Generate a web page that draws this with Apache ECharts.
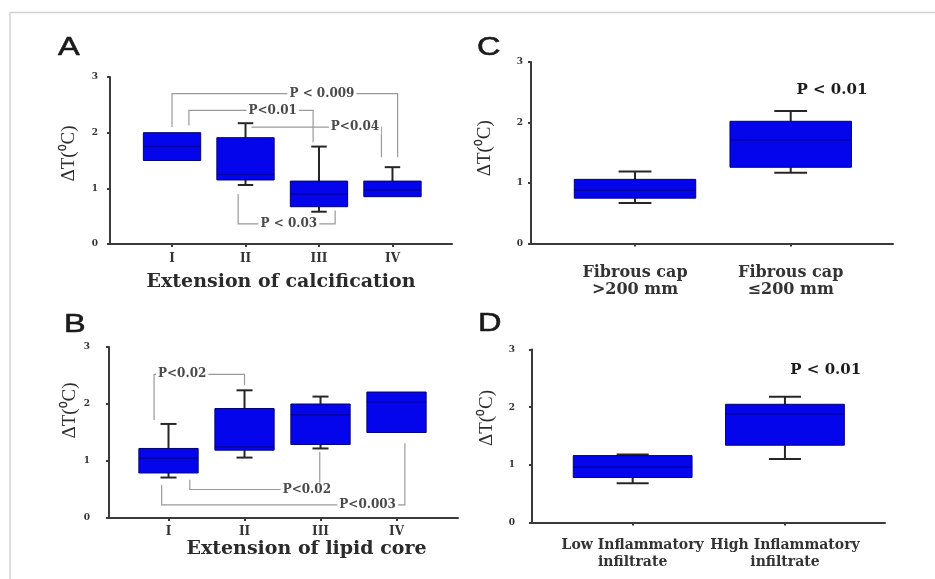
<!DOCTYPE html>
<html><head><meta charset="utf-8">
<script src="https://cdn.jsdelivr.net/npm/echarts@6/dist/echarts.min.js"></script>
<style>html,body{margin:0;padding:0;background:#fff}#c{width:935px;height:579px}</style>
</head><body><div id="c"></div><script>
// ---------- data ----------
const yName = 'ΔT(⁰C)';
const catsA = ['I', 'II', 'III', 'IV'];
const catsB = ['I', 'II', 'III', 'IV'];
const catsC = ['Fibrous cap\n>200 mm', 'Fibrous cap\n≤200 mm'];
const catsD = ['Low Inflammatory\ninfiltrate', 'High Inflammatory\ninfiltrate'];
const titleA = 'Extension of calcification';
const titleB = 'Extension of lipid core';
// [min, Q1, median, Q3, max]
const boxA = [[1.50, 1.50, 1.75, 2.00, 2.00], [1.06, 1.15, 1.25, 1.91, 2.17], [0.58, 0.67, 0.90, 1.13, 1.75], [0.85, 0.85, 0.97, 1.13, 1.38]];
const boxB = [[0.71, 0.79, 1.05, 1.22, 1.65], [1.06, 1.19, 1.25, 1.92, 2.24], [1.22, 1.29, 1.81, 2.00, 2.13], [1.50, 1.50, 2.04, 2.21, 2.21]];
const boxC = [[0.67, 0.75, 0.88, 1.06, 1.19], [1.17, 1.26, 1.71, 2.02, 2.19]];
const boxD = [[0.68, 0.78, 0.96, 1.16, 1.18], [1.10, 1.34, 1.88, 2.05, 2.18]];
// significance annotations (data coordinates: category index, ΔT)
const notesA = [
  { label: 'P < 0.009', at: [2.04, 2.70], path: [[0.00, 2.10], [0.00, 2.70], [3.07, 2.70], [3.07, 1.56]] },
  { label: 'P<0.01', at: [1.37, 2.40], path: [[0.23, 2.13], [0.23, 2.40], [1.92, 2.40], [1.92, 1.83]] },
  { label: 'P<0.04', at: [2.49, 2.10], path: [[1.08, 2.10], [2.85, 2.10], [2.85, 1.56]] },
  { label: 'P < 0.03', at: [1.59, 0.36], path: [[0.90, 0.90], [0.90, 0.36], [2.22, 0.36], [2.22, 0.60]] }
];
const notesB = [
  { label: 'P<0.02', at: [0.18, 2.52], path: [[-0.19, 1.72], [-0.19, 2.52], [1.00, 2.52], [1.00, 2.33]] },
  { label: 'P<0.02', at: [1.82, 0.50], path: [[0.28, 0.67], [0.28, 0.50], [1.99, 0.50], [1.99, 1.16]] },
  { label: 'P<0.003', at: [2.62, 0.23], path: [[-0.09, 0.58], [-0.09, 0.23], [3.11, 0.23], [3.11, 1.31]] }
];
const notesC = [{ label: 'P < 0.01', at: [1.265, 2.53], path: [] }];
const notesD = [{ label: 'P < 0.01', at: [1.268, 2.65], path: [] }];
const yTicks = [0, 1, 2, 3];

// ---------- layout / style ----------
const SERIF_B = '"DejaVu Serif", serif';
const panels = [
  { cats: catsA, box: boxA, notes: notesA, title: titleA, grid: { left: 110, top: 77, width: 342, height: 167 }, xMin: -0.844, xMax: 3.81,
    lblSize: 12, lblMargin: 8, lblLH: 14, nameGap: 29, namePad: [0, 0, 0, 0], yMargin: 12, yNameGap: 31, yNamePad: [0, 0, 0, 14] },
  { cats: catsB, box: boxB, notes: notesB, title: titleB, grid: { left: 109, top: 347, width: 349, height: 171 }, xMin: -0.783, xMax: 3.809,
    lblSize: 12, lblMargin: 7, lblLH: 14, nameGap: 11, namePad: [0, 0, 0, 46], yMargin: 19, yNameGap: 26, yNamePad: [0, 0, 0, 44] },
  { cats: catsC, box: boxC, notes: notesC, title: '', grid: { left: 531, top: 62, width: 362, height: 181.5 }, xMin: -0.668, xMax: 1.657,
    lblSize: 16, lblMargin: 21, lblLH: 17, nameGap: 0, namePad: [0, 0, 0, 0], yMargin: 8, yNameGap: 36, yNamePad: [0, 0, 0, 9] },
  { cats: catsD, box: boxD, notes: notesD, title: '', grid: { left: 532, top: 349.5, width: 353, height: 173 }, xMin: -0.661, xMax: 1.657,
    lblSize: 14, lblMargin: 14, lblLH: 17, nameGap: 0, namePad: [0, 0, 0, 0], yMargin: 17, yNameGap: 35, yNamePad: [0, 0, 0, 36] }
];
const BOX_W = 0.78;
const axisCol = '#3a3a3a';

function boxRender(params, api) {
  const x = api.value(0);
  const vMin = api.value(1), vQ1 = api.value(2), vMed = api.value(3), vQ3 = api.value(4), vMax = api.value(5);
  const cx = api.coord([x, vQ3])[0];
  const y = v => api.coord([x, v])[1];
  const w = api.size([BOX_W, 0])[0];
  const cap = w * 0.27;
  const ws = { stroke: '#262626', lineWidth: 2 };
  const ch = [];
  if (vMax > vQ3) {
    ch.push({ type: 'line', shape: { x1: cx, y1: y(vQ3), x2: cx, y2: y(vMax) }, style: ws });
    ch.push({ type: 'line', shape: { x1: cx - cap / 2, y1: y(vMax), x2: cx + cap / 2, y2: y(vMax) }, style: ws });
  }
  if (vMin < vQ1) {
    ch.push({ type: 'line', shape: { x1: cx, y1: y(vQ1), x2: cx, y2: y(vMin) }, style: ws });
    ch.push({ type: 'line', shape: { x1: cx - cap / 2, y1: y(vMin), x2: cx + cap / 2, y2: y(vMin) }, style: ws });
  }
  ch.push({ type: 'rect', shape: { x: cx - w / 2, y: y(vQ3), width: w, height: y(vQ1) - y(vQ3) },
            style: { fill: '#0505ec', stroke: '#00007a', lineWidth: 1 } });
  ch.push({ type: 'line', shape: { x1: cx - w / 2, y1: y(vMed), x2: cx + w / 2, y2: y(vMed) },
            style: { stroke: '#0000a6', lineWidth: 1.5 } });
  return { type: 'group', children: ch };
}

function noteRender(list, big) {
  return function (params, api) {
    const b = list[params.dataIndex];
    const ch = [];
    if (b.path.length) {
      ch.push({ type: 'polyline', shape: { points: b.path.map(p => api.coord(p)) },
                style: { stroke: '#9a9a9a', lineWidth: 1.2, fill: null } });
    }
    const c = api.coord(b.at);
    ch.push({ type: 'text', x: c[0], y: c[1],
      style: { text: b.label, x: 0, y: 0, align: 'center', verticalAlign: 'middle',
               font: 'bold ' + (big ? 15 : 12) + 'px ' + SERIF_B, fill: big ? '#1c1c1c' : '#4a4a4a',
               backgroundColor: b.path.length ? '#ffffff' : null, padding: [1, 2] } });
    return { type: 'group', children: ch };
  };
}

const option = { animation: false, grid: [], xAxis: [], yAxis: [], series: [], graphic: [] };
panels.forEach((p, i) => {
  option.grid.push(Object.assign({ containLabel: false }, p.grid));
  const idx = p.cats.map((c, k) => k);
  option.xAxis.push({
    gridIndex: i, type: 'value', min: p.xMin, max: p.xMax, splitLine: { show: false },
    axisLine: { show: true, onZero: false, lineStyle: { color: axisCol, width: 2 } },
    axisTick: { show: true, customValues: idx, length: 3, lineStyle: { color: axisCol, width: 2 } },
    axisLabel: { customValues: idx, formatter: v => p.cats[Math.round(v)], margin: p.lblMargin,
                 fontFamily: SERIF_B, fontWeight: 'bold', fontSize: p.lblSize, lineHeight: p.lblLH, color: '#333' },
    name: p.title, nameLocation: 'middle', nameGap: p.nameGap,
    nameTextStyle: { fontFamily: SERIF_B, fontWeight: 'bold', fontSize: 19, color: '#2a2a2a', padding: p.namePad }
  });
  option.yAxis.push({
    gridIndex: i, type: 'value', min: yTicks[0], max: yTicks[yTicks.length - 1], interval: 1, splitLine: { show: false },
    axisLine: { show: true, onZero: false, lineStyle: { color: axisCol, width: 2 } },
    axisTick: { show: true, length: 3, lineStyle: { color: axisCol, width: 2 } },
    axisLabel: { margin: p.yMargin, fontFamily: SERIF_B, fontWeight: 'bold', fontSize: 9, color: '#333' },
    name: yName, nameLocation: 'middle', nameRotate: 90, nameGap: p.yNameGap,
    nameTextStyle: { fontFamily: '"Liberation Serif", serif', fontSize: 19, color: '#2e2e2e', padding: p.yNamePad }
  });
  option.series.push({
    type: 'custom', xAxisIndex: i, yAxisIndex: i, clip: false, renderItem: boxRender,
    encode: { x: 0, y: [1, 2, 3, 4, 5] },
    data: p.box.map((b, k) => [k].concat(b))
  });
  option.series.push({
    type: 'custom', xAxisIndex: i, yAxisIndex: i, clip: false, z: 5, renderItem: noteRender(p.notes, i >= 2),
    encode: { x: 0, y: 1 },
    data: p.notes.map(n => n.at)
  });
});

// panel letters and figure frame
const letters = [['A', 58, 48], ['B', 64, 325], ['C', 477, 48], ['D', 478, 324]];
letters.forEach(l => option.graphic.push({
  type: 'text', x: l[1], y: l[2], scaleX: 1.25,
  style: { text: l[0], font: '26px "Liberation Sans", Arial, sans-serif', fill: '#1a1a1a', align: 'left', verticalAlign: 'middle',
           stroke: '#1a1a1a', lineWidth: 0.6 }
}));
option.graphic.push({ type: 'line', shape: { x1: 10, y1: 12.5, x2: 935, y2: 12.5 }, style: { stroke: '#d2d2d2', lineWidth: 1.5 } });
option.graphic.push({ type: 'line', shape: { x1: 10, y1: 12.5, x2: 10, y2: 579 }, style: { stroke: '#d2d2d2', lineWidth: 1.5 } });

const chart = echarts.init(document.getElementById('c'), null, { renderer: 'canvas' });
chart.setOption(option);
</script></body></html>
